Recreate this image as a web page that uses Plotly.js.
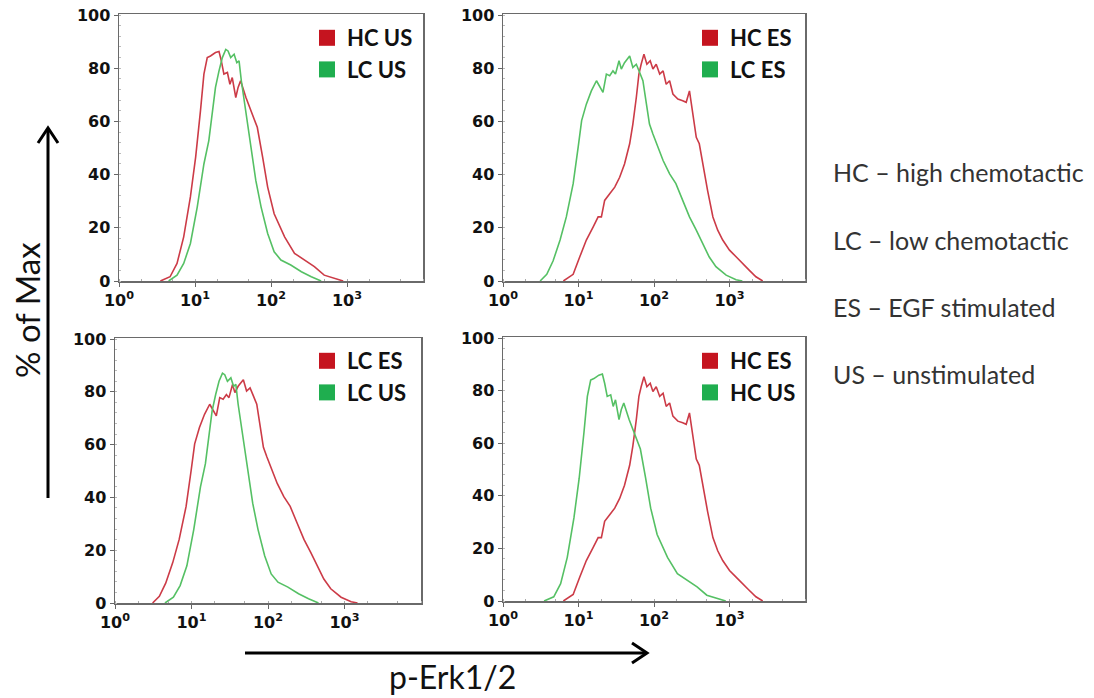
<!DOCTYPE html>
<html>
<head>
<meta charset="utf-8">
<script src="https://cdn.plot.ly/plotly-3.0.1.min.js"></script>
<style>html,body{margin:0;padding:0;background:#fff;}#chart{width:1094px;height:698px;}</style>
</head>
<body>
<div id="chart"></div>
<script>
// p-Erk1/2 fluorescence intensity (x) and % of Max (y)
var HC_US_x = [3.5, 4.7, 5.8, 7.1, 8.7, 10.2, 11.8, 13.1, 14.5, 16, 18.6, 20.7, 22.2, 24, 26.7, 28.8, 30.9, 34.4, 36.9, 39.8, 46.8, 54.3, 66, 77.6, 90.4, 110, 151, 204, 275, 372, 501, 692, 891];
var HC_US_y = [0, 1.6, 6.6, 16.6, 31.6, 46.6, 64, 77.8, 84, 84.6, 85.9, 86.3, 82.8, 77.8, 78.4, 74, 76.5, 69, 72.8, 75.3, 69, 64, 57.8, 46.6, 35.3, 25.3, 16.6, 10.4, 7.9, 5.4, 2.2, 1, 0];

var LC_US_x = [4.5, 5.8, 7.1, 8.7, 10.7, 13.1, 15.2, 16.9, 18.6, 20.7, 22.9, 25.4, 27.2, 29.5, 32.7, 35.5, 38, 40.7, 46.8, 54.3, 63.1, 74.1, 90.4, 110, 135, 182, 251, 339, 457];
var LC_US_y = [0, 2.2, 6.6, 14.1, 27.8, 44, 52.8, 62.8, 72.8, 79, 84, 87.1, 86.5, 84, 85.3, 82.1, 82.8, 75.3, 62.8, 50.3, 37.8, 27.8, 17.9, 11, 7.9, 6, 3.5, 1.6, 0];

var HC_ES_x = [6.3, 8.5, 10.4, 12.7, 15.6, 18.2, 20.1, 22.2, 25.9, 30.2, 35.1, 40.7, 47.6, 52.5, 58.3, 63.1, 67.6, 73.6, 80.5, 89.1, 96.8, 107, 119, 132, 145, 161, 178, 207, 240, 267, 295, 327, 363, 398, 443, 513, 603, 698, 813, 1000, 1222, 1479, 1820, 2239, 2754];
var HC_ES_y = [0, 2.5, 9.1, 15.4, 20.3, 24.1, 24.1, 30.3, 32.8, 35.3, 39, 44, 51.6, 59, 69, 77.8, 81.5, 85.3, 81.5, 82.8, 79.7, 81.5, 77.8, 79, 74, 75.3, 70.3, 68.4, 67.8, 67.2, 71.5, 62.8, 54, 51.6, 44, 34, 24.1, 19.1, 15.4, 11.6, 9.1, 6.6, 4.1, 1.6, 0];

var LC_ES_x = [3.1, 3.8, 4.6, 5.7, 6.9, 8.5, 9.9, 11, 12.7, 14.8, 17.3, 19.1, 21.1, 23.4, 25.9, 28.6, 30.9, 34.4, 36.9, 40.7, 47.6, 52.5, 58.3, 64.6, 71.3, 79.4, 87.1, 96.8, 112, 132, 161, 195, 240, 295, 363, 443, 537, 661, 902, 1222, 1479];
var LC_ES_y = [0, 2.5, 7.5, 15.4, 24.1, 36.6, 50.3, 60.3, 66.5, 71.5, 75.3, 72.8, 70.9, 77.8, 77.2, 79, 77.8, 82.8, 79.7, 82.1, 84.6, 80.3, 81.5, 78.4, 75.3, 66.5, 59, 55.3, 50.3, 45.3, 40.3, 36.6, 30.3, 24.1, 19.1, 14.1, 9.1, 5.4, 2.2, 0.5, 0];

var xTickVals = [1, 10, 100, 1000];
var xTickText = ['10<sup>0</sup>', '10<sup>1</sup>', '10<sup>2</sup>', '10<sup>3</sup>'];
var yTickVals = [0, 20, 40, 60, 80, 100];

var panels = [
  {ax: '', leg: 'legend', red: ['HC US', HC_US_x, HC_US_y], green: ['LC US', LC_US_x, LC_US_y]},
  {ax: '2', leg: 'legend2', red: ['HC ES', HC_ES_x, HC_ES_y], green: ['LC ES', LC_ES_x, LC_ES_y]},
  {ax: '3', leg: 'legend3', red: ['LC ES', LC_ES_x, LC_ES_y], green: ['LC US', LC_US_x, LC_US_y]},
  {ax: '4', leg: 'legend4', red: ['HC ES', HC_ES_x, HC_ES_y], green: ['HC US', HC_US_x, HC_US_y]}
];

var RED_LINE = '#cc3b47', GREEN_LINE = '#55c064';
var RED_BOX = '#c5141f', GREEN_BOX = '#1fae4f';

var W = 1094, H = 698;
function px(x){ return x / W; }
function py(y){ return 1 - y / H; }

// pixel boxes [left, right, top, bottom]
var boxes = [[119, 423, 14, 281], [503, 805, 14, 281], [115, 421, 338, 603], [503, 805, 337, 601]];

var data = [];
panels.forEach(function(p, i){
  var xa = 'x' + p.ax, ya = 'y' + p.ax;
  data.push({type: 'scatter', mode: 'lines', x: p.red[1], y: p.red[2], xaxis: xa, yaxis: ya,
    line: {color: RED_LINE, width: 1.6}, showlegend: false, hoverinfo: 'skip'});
  data.push({type: 'scatter', mode: 'lines', x: p.green[1], y: p.green[2], xaxis: xa, yaxis: ya,
    line: {color: GREEN_LINE, width: 1.6}, showlegend: false, hoverinfo: 'skip'});
  // legend entries
  data.push({type: 'scatter', mode: 'markers', x: [null], y: [null], xaxis: xa, yaxis: ya, name: p.red[0],
    legend: p.leg, legendgroup: 'r' + i, marker: {symbol: 'square', size: 19, color: RED_BOX}});
  data.push({type: 'scatter', mode: 'markers', x: [null], y: [null], xaxis: xa, yaxis: ya, name: p.green[0],
    legend: p.leg, legendgroup: 'g' + i, marker: {symbol: 'square', size: 19, color: GREEN_BOX}});
});

var tickFont = {family: 'DejaVu Sans, Verdana, sans-serif', size: 16, color: '#111', weight: 'bold'};
var layout = {
  width: W, height: H,
  margin: {l: 0, r: 0, t: 0, b: 0},
  paper_bgcolor: '#fff', plot_bgcolor: '#fff',
  showlegend: true,
  shapes: [], annotations: []
};

boxes.forEach(function(b, i){
  var s = i === 0 ? '' : String(i + 1);
  layout['xaxis' + s] = {
    type: 'log', range: [0, 4], domain: [px(b[0]), px(b[1])], anchor: 'y' + s,
    tickvals: xTickVals, ticktext: xTickText, tickfont: tickFont,
    ticks: 'outside', ticklen: 4, tickcolor: '#666',
    minor: {ticks: 'inside', ticklen: 2, dtick: 'D2', tickcolor: '#aaa', showgrid: false},
    showline: true, linecolor: '#6a6a6a', linewidth: 1.5, mirror: true,
    showgrid: false, zeroline: false, fixedrange: true
  };
  layout['yaxis' + s] = {
    range: [0, 100.4], domain: [py(b[3]), py(b[2])], anchor: 'x' + s,
    tickvals: yTickVals, tickfont: tickFont,
    ticks: 'outside', ticklen: 4, tickcolor: '#666',
    minor: {ticks: 'inside', ticklen: 2, dtick: 4, tickcolor: '#bbb', showgrid: false},
    showline: true, linecolor: '#6a6a6a', linewidth: 1.5, mirror: true,
    showgrid: false, zeroline: false, fixedrange: true
  };
});

var legFont = {family: 'Lato, Open Sans, sans-serif', size: 22, color: '#111', weight: 'bold'};
var legPos = [[307, 17], [690, 17], [307, 340], [690, 340]];
['legend', 'legend2', 'legend3', 'legend4'].forEach(function(k, i){
  layout[k] = {x: px(legPos[i][0]), y: py(legPos[i][1]), xanchor: 'left', yanchor: 'top',
    bgcolor: 'rgba(0,0,0,0)', font: legFont, traceorder: 'grouped', tracegroupgap: 0,
    itemclick: false, itemdoubleclick: false};
});

// side notes
var notes = ['HC – high chemotactic', 'LC – low chemotactic', 'ES – EGF stimulated', 'US – unstimulated'];
var noteY = [172, 240, 307, 374];
notes.forEach(function(t, i){
  layout.annotations.push({xref: 'paper', yref: 'paper', x: px(831), y: py(noteY[i]), xanchor: 'left', yanchor: 'middle',
    text: t, showarrow: false, font: {family: 'Lato, Open Sans, sans-serif', size: 25, color: '#333'}});
});
// axis titles
layout.annotations.push({xref: 'paper', yref: 'paper', x: px(27), y: py(310), xanchor: 'center', yanchor: 'middle',
  text: '% of Max', textangle: -90, showarrow: false, font: {family: 'Lato, Open Sans, sans-serif', size: 33, color: '#111'}});
layout.annotations.push({xref: 'paper', yref: 'paper', x: px(452), y: py(676), xanchor: 'center', yanchor: 'middle',
  text: 'p-Erk1/2', showarrow: false, borderpad: 0, font: {family: 'Lato, Open Sans, sans-serif', size: 32, color: '#111'}});

// arrows
var arrowLine = {color: '#000', width: 3};
layout.shapes.push({type: 'line', xref: 'paper', yref: 'paper', x0: px(245), y0: py(653), x1: px(645), y1: py(653), line: arrowLine});
layout.shapes.push({type: 'path', xref: 'paper', yref: 'paper', line: arrowLine,
  path: 'M ' + px(632) + ' ' + py(643) + ' L ' + px(647) + ' ' + py(653) + ' L ' + px(632) + ' ' + py(663)});
layout.shapes.push({type: 'line', xref: 'paper', yref: 'paper', x0: px(48), y0: py(498), x1: px(48), y1: py(130), line: arrowLine});
layout.shapes.push({type: 'path', xref: 'paper', yref: 'paper', line: arrowLine,
  path: 'M ' + px(38) + ' ' + py(143) + ' L ' + px(48) + ' ' + py(128) + ' L ' + px(58) + ' ' + py(143)});

Plotly.newPlot('chart', data, layout, {displayModeBar: false, staticPlot: true});
</script>
</body>
</html>
